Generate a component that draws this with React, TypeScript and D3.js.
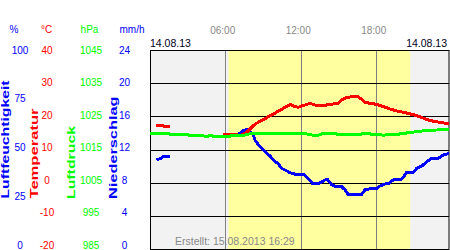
import React from "react";
import * as d3 from "d3";

// ---------- data ----------
const humidityTicks = [0, 25, 50, 75, 100];
const temperatureTicks = [-20, -10, 0, 10, 20, 30, 40];
const pressureTicks = [985, 995, 1005, 1015, 1025, 1035, 1045];
const precipitationTicks = [0, 4, 8, 12, 16, 20, 24];
const timeTickHours = [6, 12, 18];
const timeTickLabels = ["06:00", "12:00", "18:00"];
const dateLabel = "14.08.13";
const createdLabel = "Erstellt: 15.08.2013 16:29";
const daylight = [6.22, 20.67];

// temperature (°C), [hour, value]
const temperatureNight: [number, number][] = [
  [0.45, 17.5], [0.95, 17.5], [1.05, 17.2], [1.55, 17.2],
];
const temperatureDay: [number, number][] = [
  [5.78, 14.8], [6.5, 14.8], [7.14, 14.4], [7.54, 15.0], [7.8, 15.8], [8.07, 16.9],
  [8.33, 17.8], [8.59, 18.4], [8.86, 18.9], [9.13, 19.4], [9.39, 20.1], [9.66, 20.6],
  [9.92, 21.1], [10.18, 21.8], [10.45, 22.3], [10.71, 22.9], [10.98, 23.5], [11.19, 23.7],
  [11.51, 23.1], [11.77, 22.9], [12.09, 23.4], [12.31, 23.6], [12.7, 24.1], [13.1, 23.6],
  [13.63, 23.3], [14.03, 23.6], [14.55, 23.9], [14.95, 24.1], [15.22, 25.1], [15.62, 25.9],
  [16.14, 26.1], [16.54, 26.1], [16.81, 25.3], [17.07, 24.3], [17.61, 24.1], [18.13, 23.6],
  [18.53, 23.1], [19.06, 22.4], [19.6, 21.8], [20.12, 21.4], [20.65, 20.9], [21.18, 20.4],
  [21.71, 19.6], [22.24, 18.9], [22.77, 18.5], [23.3, 18.2], [23.75, 17.9],
];

// humidity (%), [hour, value]
const humidityNight: [number, number][] = [
  [0.5, 45.0], [0.85, 45.8], [1.05, 46.8], [1.55, 46.8],
];
const humidityDay: [number, number][] = [
  [7.0, 57.9], [7.4, 59.7], [7.67, 60.4], [7.93, 59.2], [8.2, 57.6], [8.33, 55.0],
  [8.55, 53.0], [8.73, 51.7], [8.99, 50.0], [9.26, 48.3], [9.52, 47.0], [9.79, 45.0],
  [10.18, 43.0], [10.45, 40.8], [10.72, 39.9], [11.11, 38.6], [11.51, 37.8], [12.23, 37.8],
  [12.44, 36.3], [12.7, 34.5], [12.94, 32.9], [13.34, 32.9], [13.63, 34.0], [13.9, 34.9],
  [14.13, 34.9], [14.43, 32.4], [14.83, 31.5], [15.22, 31.5], [15.49, 29.9], [15.72, 27.8],
  [16.81, 27.8], [17.07, 29.9], [17.61, 30.7], [18.0, 30.7], [18.27, 31.9], [18.66, 32.9],
  [18.9, 32.9], [19.3, 34.9], [19.86, 34.9], [20.12, 36.3], [20.39, 38.8], [20.91, 38.8],
  [21.18, 40.8], [21.58, 41.9], [21.98, 44.1], [22.38, 45.8], [22.9, 45.8], [23.3, 47.5],
  [23.75, 48.3],
];

// air pressure (hPa), [hour, value]
const pressureDay: [number, number][] = [
  [0, 1019.8], [0.25, 1020.05], [1.5, 1020.05], [1.6, 1019.7], [3.0, 1019.7], [3.1, 1019.4],
  [4.2, 1019.4], [4.3, 1019.2], [4.6, 1019.2], [4.7, 1019.4], [4.9, 1019.4], [5.0, 1019.1],
  [6.3, 1019.1], [6.5, 1019.5], [7.5, 1019.5], [8.0, 1020.0], [12.2, 1020.0], [12.9, 1019.5],
  [13.4, 1019.5], [13.8, 1020.1], [14.3, 1020.0], [15.5, 1019.6], [16.5, 1019.6],
  [17.0, 1020.0], [17.6, 1019.8], [18.5, 1019.5], [19.6, 1019.7], [20.1, 1020.0],
  [20.7, 1020.3], [21.5, 1020.7], [22.5, 1021.0], [23.75, 1021.2],
];

// ---------- layout ----------
const W = 450;
const H = 250;
const PL = 150;
const PR = 449;
const PT = 50;
const PB = 249;

const FONT = "'Liberation Sans', Arial, sans-serif";

export default function App() {
  const x = d3.scaleLinear().domain([0, 24]).range([150.2, 452.2]);
  const yTemp = d3.scaleLinear().domain([-20, 40]).range([249.3, 50.7]);
  const yPress = d3.scaleLinear().domain([985, 1045]).range([249.3, 50.7]);
  const yHum = d3.scaleLinear().domain([0, 100]).range([249.3, 50.7]);

  const lHum = d3.scaleLinear().domain([0, 100]).range([245, 50]);
  const lTemp = d3.scaleLinear().domain([-20, 40]).range([245, 50]);
  const lPress = d3.scaleLinear().domain([985, 1045]).range([245, 50]);
  const lPrec = d3.scaleLinear().domain([0, 24]).range([245, 50]);

  const lineT = d3.line<[number, number]>().x((d) => x(d[0])).y((d) => yTemp(d[1]));
  const lineP = d3.line<[number, number]>().x((d) => x(d[0])).y((d) => yPress(d[1]));
  const lineH = d3.line<[number, number]>().x((d) => x(d[0])).y((d) => yHum(d[1]));

  const gridYs = temperatureTicks.map((t) => Math.floor(yTemp(t)) + 0.5);

  const titles = [
    { text: "Luftfeuchtigkeit", x: 8.5, y: 198.5, len: 118, color: "#0000ff" },
    { text: "Temperatur", x: 38, y: 198.5, len: 90, color: "#ff0000" },
    { text: "Luftdruck", x: 75, y: 199, len: 73, color: "#00ff00" },
    { text: "Niederschlag", x: 116.5, y: 199, len: 102.5, color: "#0000ff" },
  ];

  const units = [
    { text: "%", x: 14, color: "#0000ff" },
    { text: "°C", x: 46.7, color: "#ff0000" },
    { text: "hPa", x: 89.5, color: "#00ff00" },
    { text: "mm/h", x: 132, color: "#0000ff" },
  ];

  return (
    <svg
      width={W}
      height={H}
      style={{ position: "absolute", left: 0, top: 0, background: "#fff" }}
      fontFamily={FONT}
    >
      <defs>
        <clipPath id="plotClip">
          <rect x={PL} y={PT} width={PR - PL} height={PB - PT} />
        </clipPath>
      </defs>
      <rect x={0} y={0} width={W} height={H} fill="#ffffff" />

      {/* plot background */}
      <rect x={PL} y={PT} width={PR - PL} height={PB - PT} fill="#f2f2f2" />
      <rect
        x={x(daylight[0])}
        y={PT}
        width={x(daylight[1]) - x(daylight[0])}
        height={PB - PT}
        fill="#ffffa0"
      />

      {/* vertical time lines */}
      {timeTickHours.map((h) => (
        <line
          key={"v" + h}
          x1={Math.floor(x(h)) + 0.5}
          x2={Math.floor(x(h)) + 0.5}
          y1={PT}
          y2={PB}
          stroke="#808080"
          strokeWidth={1}
        />
      ))}

      {/* horizontal grid */}
      {gridYs.map((gy, i) => (
        <line key={"g" + i} x1={PL} x2={PR} y1={gy} y2={gy} stroke="#000" strokeWidth={1} />
      ))}

      {/* frame */}
      <rect
        x={PL + 0.5}
        y={PT + 0.5}
        width={PR - PL - 0.5}
        height={PB - PT}
        fill="none"
        stroke="#000"
        strokeWidth={1}
      />

      {/* data lines */}
      <g clipPath="url(#plotClip)" fill="none" strokeWidth={3} shapeRendering="crispEdges">
        <path d={lineH(humidityNight) || ""} stroke="#0000ff" />
        <path d={lineH(humidityDay) || ""} stroke="#0000ff" />
        <path d={lineT(temperatureNight) || ""} stroke="#ff0000" />
        <path d={lineT(temperatureDay) || ""} stroke="#ff0000" />
        <path d={lineP(pressureDay) || ""} stroke="#00ff00" />
      </g>

      {/* created label */}
      <text x={175} y={244.5} fontSize={10.5} fill="#888888">
        {createdLabel}
      </text>

      {/* time labels */}
      {timeTickHours.map((h, i) => (
        <text
          key={"t" + h}
          x={x(h) - 3}
          y={34}
          fontSize={10}
          fill="#888888"
          textAnchor="middle"
        >
          {timeTickLabels[i]}
        </text>
      ))}

      {/* date labels */}
      <text x={150} y={47.3} fontSize={10.5} fill="#000022">
        {dateLabel}
      </text>
      <text x={447} y={47.3} fontSize={10.5} fill="#000022" textAnchor="end">
        {dateLabel}
      </text>

      {/* unit headers */}
      {units.map((u) => (
        <text key={u.text} x={u.x} y={33} fontSize={10} fill={u.color} textAnchor="middle">
          {u.text}
        </text>
      ))}

      {/* tick labels */}
      {humidityTicks.map((v) => (
        <text key={"h" + v} x={20} y={lHum(v) + 3.6} fontSize={10} fill="#0000ff" textAnchor="middle">
          {v}
        </text>
      ))}
      {temperatureTicks.map((v) => (
        <text key={"c" + v} x={47} y={lTemp(v) + 3.6} fontSize={10} fill="#ff0000" textAnchor="middle">
          {v}
        </text>
      ))}
      {pressureTicks.map((v) => (
        <text key={"p" + v} x={91} y={lPress(v) + 3.6} fontSize={10} fill="#00ff00" textAnchor="middle">
          {v}
        </text>
      ))}
      {precipitationTicks.map((v) => (
        <text key={"r" + v} x={124.5} y={lPrec(v) + 3.6} fontSize={10} fill="#0000ff" textAnchor="middle">
          {v}
        </text>
      ))}

      {/* rotated titles */}
      {titles.map((t) => (
        <text
          key={t.text}
          transform={`translate(${t.x},${t.y}) rotate(-90)`}
          fontSize={10}
          fontWeight="bold"
          fill={t.color}
          textLength={t.len}
          lengthAdjust="spacingAndGlyphs"
        >
          {t.text}
        </text>
      ))}
    </svg>
  );
}
